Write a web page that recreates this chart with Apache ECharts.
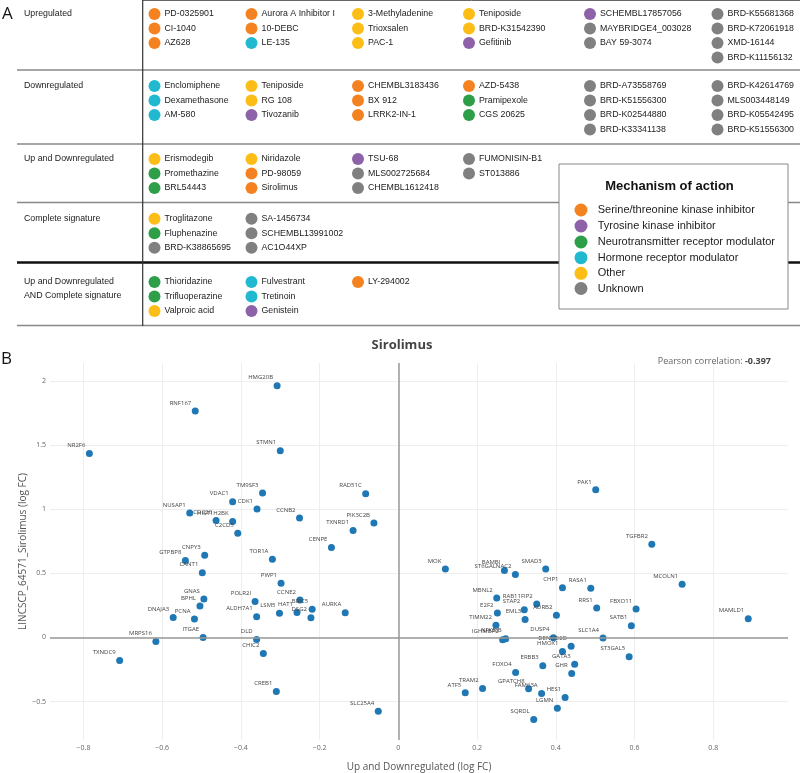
<!DOCTYPE html>
<html><head><meta charset="utf-8">
<script src="https://cdn.jsdelivr.net/npm/echarts@6/dist/echarts.min.js"></script>
<style>html,body{margin:0;padding:0;background:#fff}#c{width:800px;height:773px}</style>
</head><body><div id="c"></div>
<script>
// ---------- Panel A data ----------
const mechKeys = ['S', 'T', 'N', 'H', 'O', 'U'];
const mechNames = ['Serine/threonine kinase inhibitor', 'Tyrosine kinase inhibitor', 'Neurotransmitter receptor modulator', 'Hormone receptor modulator', 'Other', 'Unknown'];
const mechColors = ['#f58220', '#8e62a9', '#2e9e48', '#21b9cf', '#fcbd16', '#808080'];
const legendTitle = 'Mechanism of action';

const rowNames = ['Upregulated', 'Downregulated', 'Up and Downregulated', 'Complete signature', 'Up and Downregulated\nAND Complete signature'];

const upregulatedDrugs = [
  [['PD-0325901', 'S'], ['CI-1040', 'S'], ['AZ628', 'S']],
  [['Aurora A Inhibitor I', 'S'], ['10-DEBC', 'S'], ['LE-135', 'H']],
  [['3-Methyladenine', 'O'], ['Trioxsalen', 'O'], ['PAC-1', 'O']],
  [['Teniposide', 'O'], ['BRD-K31542390', 'O'], ['Gefitinib', 'T']],
  [['SCHEMBL17857056', 'T'], ['MAYBRIDGE4_003028', 'U'], ['BAY 59-3074', 'U']],
  [['BRD-K55681368', 'U'], ['BRD-K72061918', 'U'], ['XMD-16144', 'U'], ['BRD-K11156132', 'U']]
];
const downregulatedDrugs = [
  [['Enclomiphene', 'H'], ['Dexamethasone', 'H'], ['AM-580', 'H']],
  [['Teniposide', 'O'], ['RG 108', 'O'], ['Tivozanib', 'T']],
  [['CHEMBL3183436', 'S'], ['BX 912', 'S'], ['LRRK2-IN-1', 'S']],
  [['AZD-5438', 'S'], ['Pramipexole', 'N'], ['CGS 20625', 'N']],
  [['BRD-A73558769', 'U'], ['BRD-K51556300', 'U'], ['BRD-K02544880', 'U'], ['BRD-K33341138', 'U']],
  [['BRD-K42614769', 'U'], ['MLS003448149', 'U'], ['BRD-K05542495', 'U'], ['BRD-K51556300', 'U']]
];
const upAndDownDrugs = [
  [['Erismodegib', 'O'], ['Promethazine', 'N'], ['BRL54443', 'N']],
  [['Niridazole', 'O'], ['PD-98059', 'S'], ['Sirolimus', 'S']],
  [['TSU-68', 'T'], ['MLS002725684', 'U'], ['CHEMBL1612418', 'U']],
  [['FUMONISIN-B1', 'U'], ['ST013886', 'U']]
];
const completeSignatureDrugs = [
  [['Troglitazone', 'O'], ['Fluphenazine', 'N'], ['BRD-K38865695', 'U']],
  [['SA-1456734', 'U'], ['SCHEMBL13991002', 'U'], ['AC1O44XP', 'U']]
];
const bothDrugs = [
  [['Thioridazine', 'N'], ['Trifluoperazine', 'N'], ['Valproic acid', 'O']],
  [['Fulvestrant', 'H'], ['Tretinoin', 'H'], ['Genistein', 'T']],
  [['LY-294002', 'S']]
];
const tableRows = [upregulatedDrugs, downregulatedDrugs, upAndDownDrugs, completeSignatureDrugs, bothDrugs];

// ---------- Panel B data ----------
const chartTitle = 'Sirolimus';
const pearsonValue = '-0.397';
const xTitle = 'Up and Downregulated (log FC)';
const yTitle = 'LINCSCP_64571_Sirolimus (log FC)';

const geneNames = ['HMG20B','RNF167','NR2F6','STMN1','TM9SF3','RAD51C','VDAC1','CDK1','NUSAP1','CDC20','HIST1H2BK','C2CD5','CCNB2','PIK3C2B','TXNRD1','CENPE','TOR1A','CNPY3','GTPBP8','CANT1','PWP1','GNAS','BPHL','DNAJA3','PCNA','POLR2I','ALDH7A1','LSM5','HAT1','CCNE2','BIRC5','DSG2','AURKA','ITGAE','MRPS16','TXNDC9','DLD','CHIC2','CREB1','SLC25A4','PAK1','TGFBR2','MOK','BAMBI','ST6GALNAC2','SMAD3','CHP1','RASA1','MCOLN1','MBNL2','RAB11FIP2','STAP2','E2F2','EML3','ADRB2','RRS1','FBXO11','MAMLD1','SATB1','TIMM22','NFKBIB','IGHMBP2','DUSP4','DENND2D','HMOX1','GATA3','GHR','ERBB3','FOXO4','GPATCH8','FAM63A','HES1','LGMN','SQRDL','TRAM2','ATF5','SLC1A4','ST3GAL5'];
const upDownFC = [-0.308,-0.516,-0.785,-0.300,-0.345,-0.083,-0.421,-0.359,-0.530,-0.463,-0.421,-0.408,-0.251,-0.062,-0.115,-0.170,-0.320,-0.492,-0.541,-0.498,-0.298,-0.494,-0.504,-0.572,-0.518,-0.364,-0.360,-0.302,-0.2575,-0.250,-0.219,-0.222,-0.135,-0.496,-0.616,-0.708,-0.360,-0.343,-0.310,-0.051,0.5015,0.644,0.1195,0.2695,0.2974,0.3745,0.417,0.489,0.721,0.250,0.3516,0.320,0.2517,0.322,0.4016,0.504,0.604,0.889,0.592,0.248,0.2728,0.265,0.394,0.439,0.417,0.448,0.4405,0.367,0.298,0.331,0.364,0.4237,0.404,0.344,0.214,0.170,0.520,0.5864];
const sirolimusFC = [1.963,1.766,1.435,1.456,1.127,1.120,1.058,1.002,0.970,0.912,0.904,0.8125,0.932,0.893,0.833,0.702,0.610,0.641,0.599,0.505,0.422,0.299,0.245,0.156,0.143,0.281,0.162,0.1875,0.195,0.291,0.219,0.154,0.193,0.0,-0.031,-0.180,-0.016,-0.125,-0.422,-0.576,1.151,0.727,0.534,0.521,0.490,0.534,0.388,0.383,0.414,0.307,0.260,0.216,0.190,0.1406,0.172,0.229,0.221,0.146,0.091,0.094,-0.010,-0.018,-0.002,-0.068,-0.109,-0.209,-0.281,-0.221,-0.273,-0.401,-0.4375,-0.469,-0.552,-0.641,-0.398,-0.432,-0.005,-0.151];

// ---------- layout ----------
const colX = [154.5, 251.5, 358, 469, 590, 717.5];
const rowFirstLineY = [14, 86, 159, 218.7, 282];
const lineGap = 14.5;
const tableFont = 'Liberation Sans';
const tableFontSize = 8.8;

const g = [];
// table lines
g.push({type:'line', shape:{x1:143, y1:0.5, x2:800, y2:0.5}, style:{stroke:'#666', lineWidth:1}, z:1});
[70, 144, 202.5, 325.5].forEach(y => g.push({type:'line', shape:{x1:17, y1:y, x2:800, y2:y}, style:{stroke:'#888', lineWidth:1.3}, z:1}));
g.push({type:'line', shape:{x1:17, y1:262.5, x2:800, y2:262.5}, style:{stroke:'#111', lineWidth:2.6}, z:1});
g.push({type:'line', shape:{x1:142.7, y1:0, x2:142.7, y2:326}, style:{stroke:'#333', lineWidth:1.2}, z:1});

// row labels
rowNames.forEach((name, r) => {
  const nLines = name.split('\n').length;
  g.push({type:'text', x:24, y: rowFirstLineY[r] + (nLines - 1) * 13.7 / 2, z:2,
    style:{text:name, fill:'#222', fontSize:tableFontSize, fontFamily:tableFont, verticalAlign:'middle', align:'left', lineHeight:13.7}});
});
// drugs
tableRows.forEach((row, r) => {
  row.forEach((col, c) => {
    col.forEach((item, i) => {
      const y = rowFirstLineY[r] + i * lineGap;
      const color = mechColors[mechKeys.indexOf(item[1])];
      g.push({type:'circle', shape:{cx:colX[c], cy:y, r:6}, style:{fill:color}, z:2});
      g.push({type:'text', x:colX[c] + 10, y:y, z:2,
        style:{text:item[0], fill:'#222', fontSize:tableFontSize, fontFamily:tableFont, verticalAlign:'middle', align:'left'}});
    });
  });
});
// legend box
g.push({type:'rect', shape:{x:559, y:164, width:229, height:145}, style:{fill:'#fff', stroke:'#888', lineWidth:1}, z:10});
g.push({type:'text', x:669.5, y:186.7, z:11, style:{text:legendTitle, fill:'#111', fontSize:13, fontWeight:'bold', fontFamily:tableFont, align:'center', verticalAlign:'middle'}});
const legendY = [210, 226, 242, 257.7, 273.3, 288.5];
mechNames.forEach((n, i) => {
  g.push({type:'circle', shape:{cx:581, cy:legendY[i], r:6.5}, style:{fill:mechColors[i]}, z:11});
  g.push({type:'text', x:597.7, y:legendY[i], z:11, style:{text:n, fill:'#222', fontSize:11, fontFamily:tableFont, align:'left', verticalAlign:'middle'}});
});
// panel letters
g.push({type:'text', x:2, y:14, z:2, style:{text:'A', fill:'#111', fontSize:17, fontFamily:'Open Sans', verticalAlign:'middle'}});
g.push({type:'text', x:1, y:359.5, z:2, style:{text:'B', fill:'#111', fontSize:17, fontFamily:'Open Sans', verticalAlign:'middle'}});
// chart title and correlation
g.push({type:'text', x:402, y:345, z:2, style:{text:chartTitle, fill:'#444', fontSize:13, fontWeight:'bold', fontFamily:'Open Sans', align:'center', verticalAlign:'middle'}});
g.push({type:'text', x:771, y:361, z:2, style:{text:'Pearson correlation: {b|' + pearsonValue + '}', fill:'#666', fontSize:9, fontFamily:'Open Sans', align:'right', verticalAlign:'middle',
  rich:{b:{fontWeight:'bold', fill:'#444', fontSize:9, fontFamily:'Open Sans'}}}});

const minus = v => String(v).replace('-', '\u2212');

const option = {
  animation: false,
  backgroundColor: '#fff',
  textStyle: {fontFamily: 'Open Sans'},
  grid: {left: 50, right: 12, top: 363, bottom: 33, containLabel: false},
  xAxis: {
    type: 'value', min: -0.885, max: 0.99, splitNumber: 9,
    name: xTitle, nameLocation: 'middle', nameGap: 22, nameMoveOverlap: false,
    nameTextStyle: {fontSize: 10, color: '#555', fontFamily: 'Open Sans'},
    axisLine: {show: false}, axisTick: {show: false},
    axisLabel: {fontSize: 7, color: '#666', margin: 4, showMinLabel: false, showMaxLabel: false, formatter: minus},
    splitLine: {show: true, showMinLine: false, showMaxLine: false, lineStyle: {color: '#eeeeee', width: 1}}
  },
  yAxis: {
    type: 'value', min: -0.8, max: 2.14, splitNumber: 6,
    name: yTitle, nameLocation: 'middle', nameGap: 22, nameRotate: 90, nameMoveOverlap: false,
    nameTextStyle: {fontSize: 10, color: '#555', fontFamily: 'Open Sans'},
    axisLine: {show: false}, axisTick: {show: false},
    axisLabel: {fontSize: 7, color: '#666', margin: 4, showMinLabel: false, showMaxLabel: false, formatter: minus},
    splitLine: {show: true, showMinLine: false, showMaxLine: false, lineStyle: {color: '#eeeeee', width: 1}}
  },
  series: [{
    type: 'scatter',
    symbolSize: 7,
    itemStyle: {color: '#1f77b4', opacity: 1},
    data: geneNames.map((n, i) => ({name: n, value: [upDownFC[i], sirolimusFC[i]]})),
    label: {
      show: true, formatter: '{b}', position: [-0.5, -1.5], align: 'right', verticalAlign: 'bottom',
      fontSize: 6, color: '#444', fontFamily: 'Open Sans'
    },
    markLine: {
      silent: true, symbol: 'none', label: {show: false},
      lineStyle: {color: '#999', width: 1.5, type: 'solid'},
      data: [{xAxis: 0}, {yAxis: 0}]
    },
    z: 3
  }],
  graphic: {elements: g}
};

const chart = echarts.init(document.getElementById('c'), null, {renderer: 'canvas'});
chart.setOption(option);
</script></body></html>
